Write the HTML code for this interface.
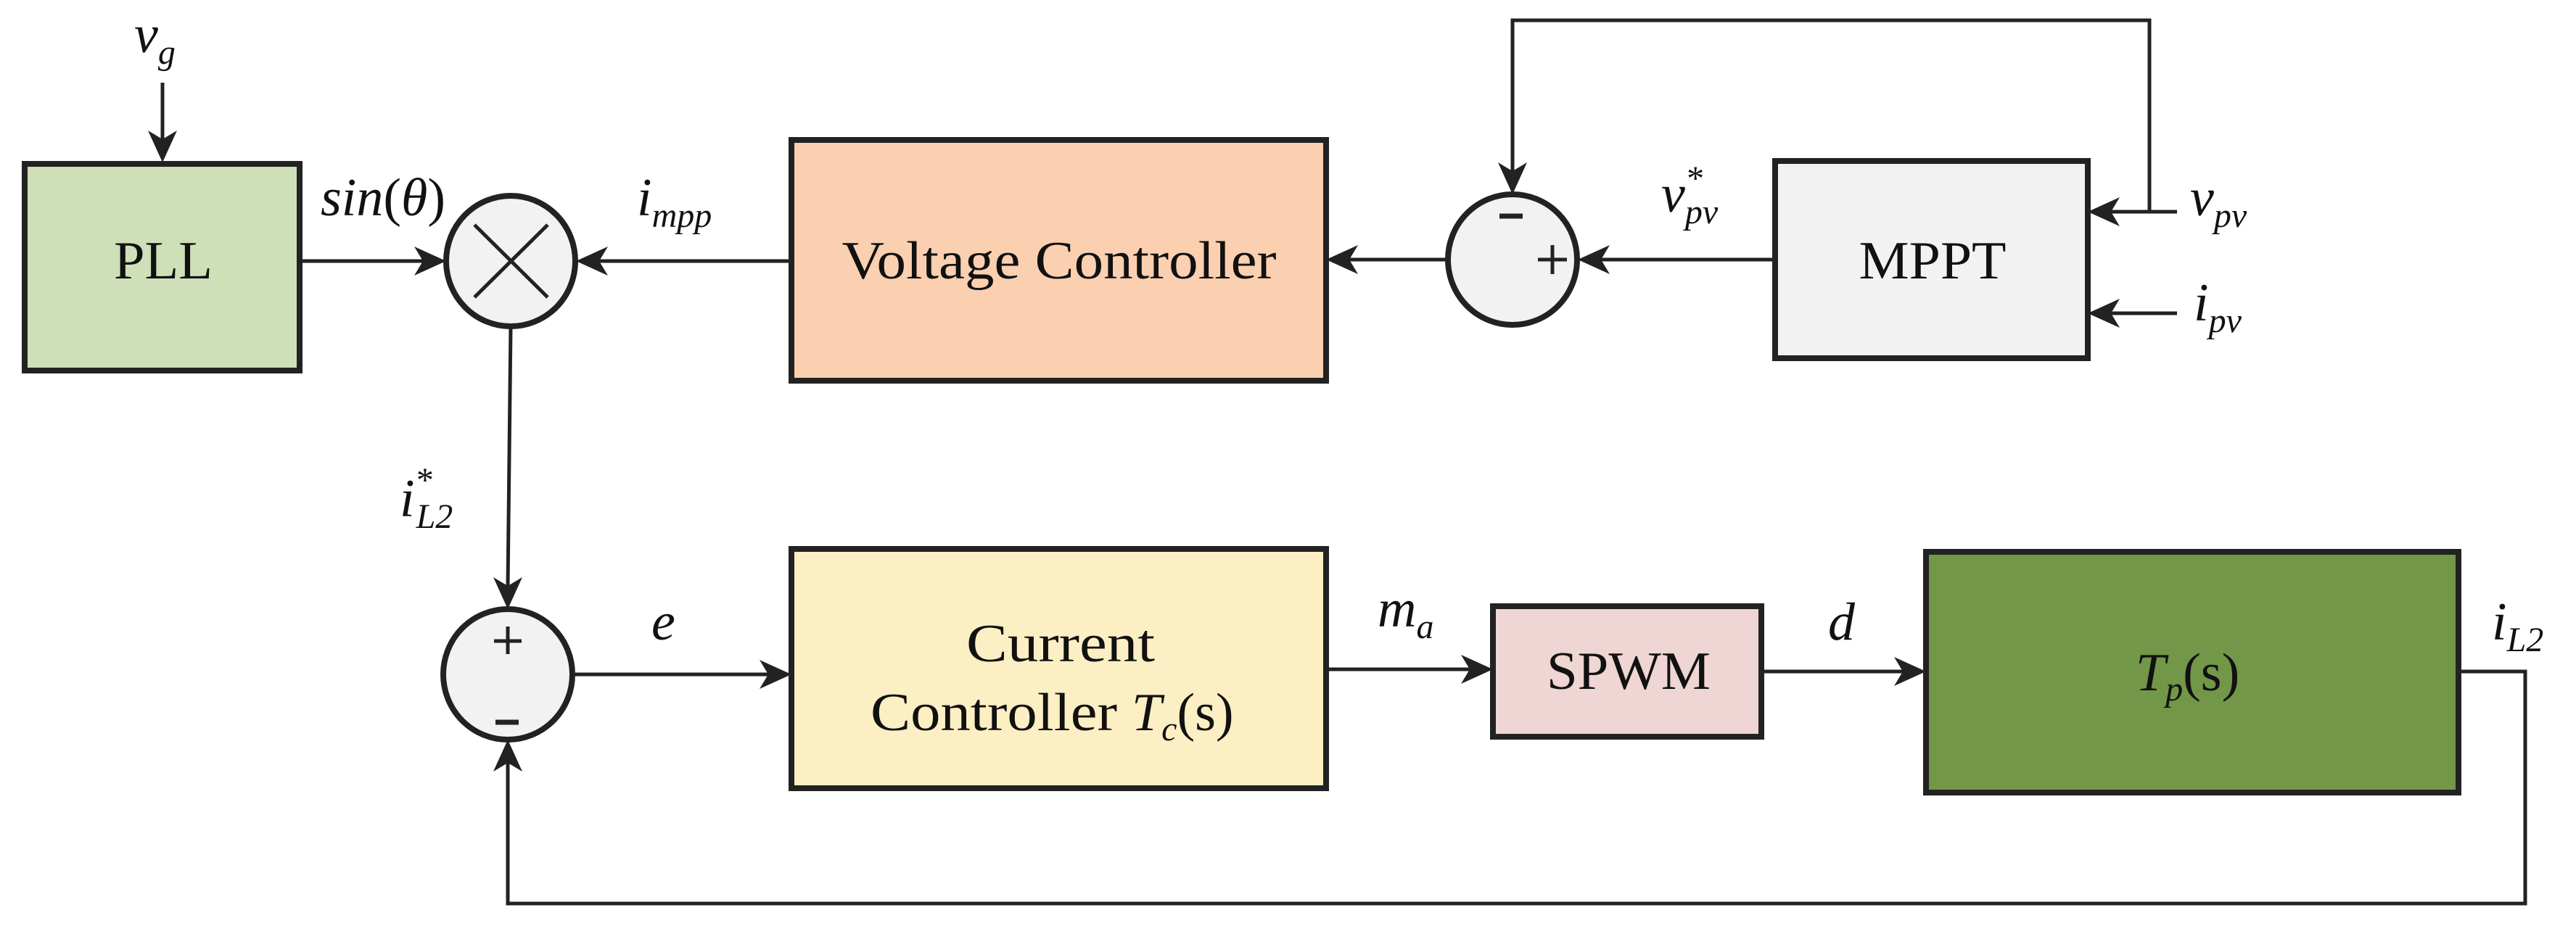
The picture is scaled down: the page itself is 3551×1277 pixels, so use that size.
<!DOCTYPE html>
<html><head><meta charset="utf-8"><style>
html,body{margin:0;padding:0;background:#fff}
svg{display:block}
text{font-family:"Liberation Serif",serif;fill:#111}
.m{font-style:italic}
</style></head><body>
<svg width="3551" height="1277" viewBox="0 0 3551 1277" xmlns="http://www.w3.org/2000/svg">
<g stroke="#222" stroke-width="8" fill="none">
<rect x="34" y="226" width="379" height="285" fill="#cfdfb8"/>
<rect x="1091" y="193" width="737" height="332" fill="#fad0b0"/>
<rect x="2447" y="222" width="431" height="272" fill="#f2f2f2"/>
<rect x="1091" y="757" width="737" height="330" fill="#fdefc4"/>
<rect x="2058" y="836" width="370" height="180" fill="#efd5d3"/>
<rect x="2655" y="761" width="734" height="332" fill="#739749"/>
<ellipse cx="704" cy="360" rx="89" ry="90" fill="#f2f2f2"/>
<ellipse cx="700" cy="930" rx="89" ry="90" fill="#f2f2f2"/>
<ellipse cx="2085" cy="358" rx="89" ry="90" fill="#f2f2f2"/>
</g>
<g stroke="#222" stroke-width="5" fill="none">
<line x1="654" y1="310" x2="755" y2="410"/>
<line x1="755" y1="310" x2="654" y2="410"/>
<line x1="700" y1="864" x2="700" y2="902"/><line x1="681" y1="884" x2="719" y2="884"/>
<line x1="2140" y1="338" x2="2140" y2="378"/><line x1="2120" y1="358" x2="2160" y2="358"/>
</g>
<g stroke="#222" stroke-width="7">
<line x1="683" y1="996" x2="715" y2="996"/>
<line x1="2067" y1="298" x2="2099" y2="298"/>
</g>
<g stroke="#222" stroke-width="5" fill="none">
<line x1="224" y1="114" x2="224" y2="195"/>
<line x1="413" y1="360" x2="585" y2="360"/>
<line x1="1091" y1="360" x2="825" y2="360"/>
<line x1="704" y1="450" x2="700" y2="810"/>
<line x1="789" y1="930" x2="1060" y2="930"/>
<line x1="1828" y1="923" x2="2028" y2="923"/>
<line x1="2428" y1="926" x2="2625" y2="926"/>
<polyline points="3389,926 3481,926 3481,1246 700,1246 700,1050"/>
<line x1="2447" y1="358" x2="2205" y2="358"/>
<line x1="1995" y1="358" x2="1858" y2="358"/>
<polyline points="2085,237 2085,28 2963,28 2963,292 3001,292"/>
<line x1="3001" y1="292" x2="2908" y2="292"/>
<line x1="3001" y1="432" x2="2908" y2="432"/>
</g>
<g fill="#222">
<polygon points="224,224 204,180 224,192 244,180"/>
<polygon points="615,360 571,340 583,360 571,380"/>
<polygon points="794,360 838,340 826,360 838,380"/>
<polygon points="700,840 680,796 700,808 720,796"/>
<polygon points="1091,930 1047,910 1059,930 1047,950"/>
<polygon points="2058,923 2014,903 2026,923 2014,943"/>
<polygon points="2655,926 2611,906 2623,926 2611,946"/>
<polygon points="700,1020 680,1064 700,1052 720,1064"/>
<polygon points="2175,358 2219,338 2207,358 2219,378"/>
<polygon points="1828,358 1872,338 1860,358 1872,378"/>
<polygon points="2085,268 2065,224 2085,236 2105,224"/>
<polygon points="2878,292 2922,272 2910,292 2922,312"/>
<polygon points="2878,432 2922,412 2910,432 2922,452"/>
</g>
<g font-size="74">
<text x="225" y="384" text-anchor="middle" textLength="136" lengthAdjust="spacingAndGlyphs">PLL</text>
<text x="1460" y="384" text-anchor="middle" textLength="599" lengthAdjust="spacingAndGlyphs">Voltage Controller</text>
<text x="2664" y="384" text-anchor="middle" textLength="203" lengthAdjust="spacingAndGlyphs">MPPT</text>
<text x="1462" y="912" text-anchor="middle" textLength="260" lengthAdjust="spacingAndGlyphs">Current</text>
<text x="1200" y="1007" textLength="340" lengthAdjust="spacingAndGlyphs">Controller</text>
<text x="1560" y="1007"><tspan class="m">T</tspan><tspan class="m" font-size="48" dy="14">c</tspan><tspan dy="-14">(s)</tspan></text>
<text x="2245" y="950" text-anchor="middle" textLength="226" lengthAdjust="spacingAndGlyphs">SPWM</text>
<text x="2944" y="952"><tspan class="m">T</tspan><tspan class="m" font-size="48" dy="14">p</tspan><tspan dy="-14">(s)</tspan></text>
</g>
<g font-size="74" class="m">
<text x="185" y="72" class="m">v<tspan font-size="48" dy="16">g</tspan></text>
<text x="442" y="297" class="m">sin<tspan font-style="normal">(</tspan>θ<tspan font-style="normal">)</tspan></text>
<text x="878" y="297" class="m">i<tspan font-size="48" dy="16">mpp</tspan></text>
<text x="551" y="712" class="m">i<tspan font-size="48" dy="-34">*</tspan><tspan font-size="48" dx="-22" dy="50">L2</tspan></text>
<text x="898" y="882" class="m">e</text>
<text x="1899" y="864" class="m">m<tspan font-size="48" dy="16">a</tspan></text>
<text x="2520" y="882" class="m">d</text>
<text x="3435" y="882" class="m">i<tspan font-size="48" dy="16">L2</tspan></text>
<text x="2290" y="292" class="m">v<tspan font-size="48" dy="-30">*</tspan><tspan font-size="48" dx="-24" dy="46">pv</tspan></text>
<text x="3019" y="297" class="m">v<tspan font-size="48" dy="16">pv</tspan></text>
<text x="3024" y="442" class="m">i<tspan font-size="48" dy="16">pv</tspan></text>
</g>
</svg>
</body></html>
